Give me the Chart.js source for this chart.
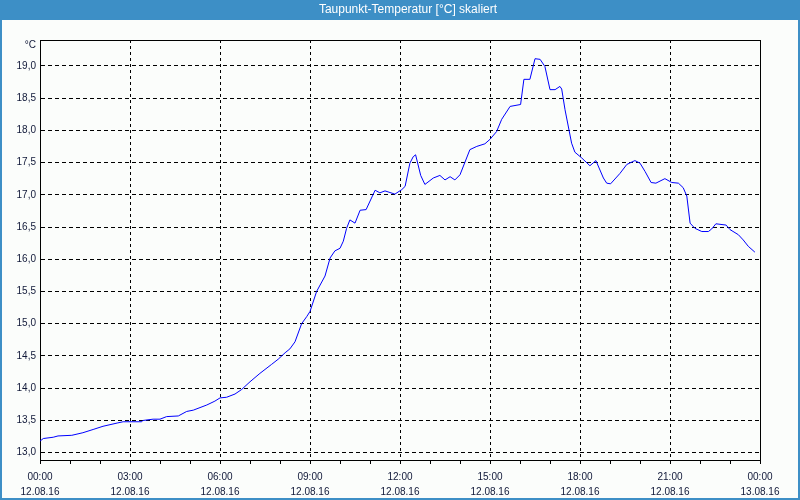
<!DOCTYPE html>
<html>
<head>
<meta charset="utf-8">
<script src="https://cdn.jsdelivr.net/npm/chart.js@4"></script>
<style>
    body { margin: 0; background: #fbfdfb; }
    canvas { display: block; }
</style>
</head>
<body>
<canvas id="dewChart" width="800" height="500"></canvas>
<script>
const chartTitle = 'Taupunkt-Temperatur [°C] skaliert';
const unitLabel = '°C';

// time of day in hours (12.08.16)
const hours = [
    0.00, 0.11, 0.44, 0.60, 1.06, 1.43, 1.77, 2.10, 2.57, 2.77, 3.39, 3.43, 3.77, 4.00,
    4.22, 4.61, 4.89, 5.11, 5.56, 5.83, 6.00, 6.22, 6.50, 6.72, 7.00, 7.33, 7.72, 7.94,
    8.17, 8.33, 8.50, 8.72, 8.89, 9.00, 9.22, 9.50, 9.67, 9.83, 10.00, 10.11, 10.22, 10.33,
    10.50, 10.67, 10.87, 11.17, 11.33, 11.50, 11.83, 12.06, 12.17, 12.33, 12.44, 12.52,
    12.69, 12.83, 13.11, 13.33, 13.50, 13.67, 13.83, 14.00, 14.33, 14.56, 14.83, 15.00,
    15.22, 15.39, 15.67, 16.02, 16.13, 16.33, 16.50, 16.67, 16.83, 17.00, 17.17, 17.33,
    17.39, 17.50, 17.72, 17.83, 18.06, 18.33, 18.53, 18.78, 18.89, 19.02, 19.33, 19.56,
    19.83, 20.00, 20.17, 20.37, 20.53, 20.83, 21.06, 21.28, 21.44, 21.56, 21.67, 21.83,
    22.06, 22.28, 22.39, 22.53, 22.87, 23.00, 23.28, 23.44, 23.61, 23.83
];
const dewPoint = [
    13.18, 13.22, 13.24, 13.26, 13.27, 13.31, 13.36, 13.41, 13.46, 13.48, 13.48, 13.50, 13.52, 13.52,
    13.56, 13.57, 13.64, 13.66, 13.74, 13.80, 13.85, 13.86, 13.91, 13.98, 14.10, 14.23, 14.37, 14.45,
    14.55, 14.61, 14.72, 15.00, 15.11, 15.19, 15.50, 15.74, 16.02, 16.13, 16.17, 16.28, 16.48, 16.61,
    16.56, 16.76, 16.77, 17.07, 17.03, 17.06, 17.01, 17.08, 17.13, 17.49, 17.59, 17.62,
    17.30, 17.16, 17.26, 17.30, 17.23, 17.28, 17.23, 17.31, 17.70, 17.75, 17.79, 17.86,
    17.98, 18.17, 18.37, 18.40, 18.79, 18.79, 19.11, 19.10, 18.99, 18.63, 18.63, 18.68,
    18.64, 18.32, 17.80, 17.66, 17.57, 17.45, 17.53, 17.26, 17.18, 17.17, 17.33, 17.47,
    17.53, 17.49, 17.36, 17.19, 17.18, 17.25, 17.19, 17.18, 17.11, 16.98, 16.56, 16.48,
    16.43, 16.43, 16.47, 16.55, 16.53, 16.46, 16.38, 16.30, 16.20, 16.11
];

const yTicks = [13.0, 13.5, 14.0, 14.5, 15.0, 15.5, 16.0, 16.5, 17.0, 17.5, 18.0, 18.5, 19.0];
const timeLabels = ['00:00', '03:00', '06:00', '09:00', '12:00', '15:00', '18:00', '21:00', '00:00'];
const dateLabels = ['12.08.16', '12.08.16', '12.08.16', '12.08.16', '12.08.16',
                    '12.08.16', '12.08.16', '12.08.16', '13.08.16'];

const labelColor = '#101838';
const fontFamily = '"Liberation Sans", Arial, sans-serif';

// title bar, window frame, plot box and unit label
const framePlugin = {
    id: 'frame',
    beforeDraw(chart) {
        const { ctx, width, height } = chart;
        ctx.save();
        ctx.fillStyle = '#fbfdfb';
        ctx.fillRect(0, 0, width, height);
        ctx.fillStyle = '#3d8fc6';
        ctx.fillRect(0, 0, width, 20);
        ctx.strokeStyle = '#3d8fc6';
        ctx.lineWidth = 2;
        ctx.strokeRect(1, 1, width - 2, height - 2);
        ctx.fillStyle = '#ffffff';
        ctx.font = '12px ' + fontFamily;
        ctx.textAlign = 'center';
        ctx.textBaseline = 'middle';
        ctx.fillText(chartTitle, 408, 10);
        ctx.restore();
    },
    beforeDatasetsDraw(chart) {
        const { ctx, chartArea: a } = chart;
        ctx.save();
        ctx.strokeStyle = '#000';
        ctx.lineWidth = 1;
        ctx.strokeRect(Math.round(a.left) + 0.5, Math.round(a.top) + 0.5,
                       Math.round(a.right - a.left), Math.round(a.bottom - a.top));
        ctx.fillStyle = labelColor;
        ctx.font = '10px ' + fontFamily;
        ctx.textAlign = 'right';
        ctx.textBaseline = 'middle';
        ctx.fillText(unitLabel, a.left - 4, a.top + 5);
        ctx.restore();
    }
};

new Chart(document.getElementById('dewChart'), {
    type: 'line',
    data: {
        datasets: [{
            data: hours.map((h, i) => ({ x: h, y: dewPoint[i] })),
            borderColor: '#0000ff',
            borderWidth: 1,
            pointRadius: 0,
            tension: 0,
            fill: false
        }]
    },
    options: {
        responsive: false,
        animation: false,
        layout: { padding: { top: 40, right: 40, left: 0, bottom: 0 } },
        plugins: {
            legend: { display: false },
            tooltip: { enabled: false }
        },
        scales: {
            x: {
                type: 'linear',
                min: 0,
                max: 24,
                afterFit: s => { s.height = 40; },
                ticks: {
                    stepSize: 1,
                    autoSkip: false,
                    maxRotation: 0,
                    padding: 6,
                    color: labelColor,
                    font: { family: fontFamily, size: 10, lineHeight: 1.45 },
                    callback: v => v % 3 === 0 ? [timeLabels[v / 3], dateLabels[v / 3]] : ''
                },
                grid: {
                    color: c => (c.tick && c.tick.value % 3 === 0) ? '#000' : 'rgba(0,0,0,0)',
                    tickColor: '#000',
                    tickLength: 4
                },
                border: { color: '#000', dash: [3, 3] }
            },
            y: {
                min: 12.887,
                max: 19.40,
                afterFit: s => { s.width = 40; },
                afterBuildTicks: s => { s.ticks = yTicks.map(v => ({ value: v })); },
                ticks: {
                    padding: 4,
                    color: labelColor,
                    font: { family: fontFamily, size: 10 },
                    callback: v => v.toFixed(1).replace('.', ',')
                },
                grid: { color: '#000', drawTicks: false },
                border: { color: '#000', dash: [4, 3] }
            }
        }
    },
    plugins: [framePlugin]
});
</script>
</body>
</html>
